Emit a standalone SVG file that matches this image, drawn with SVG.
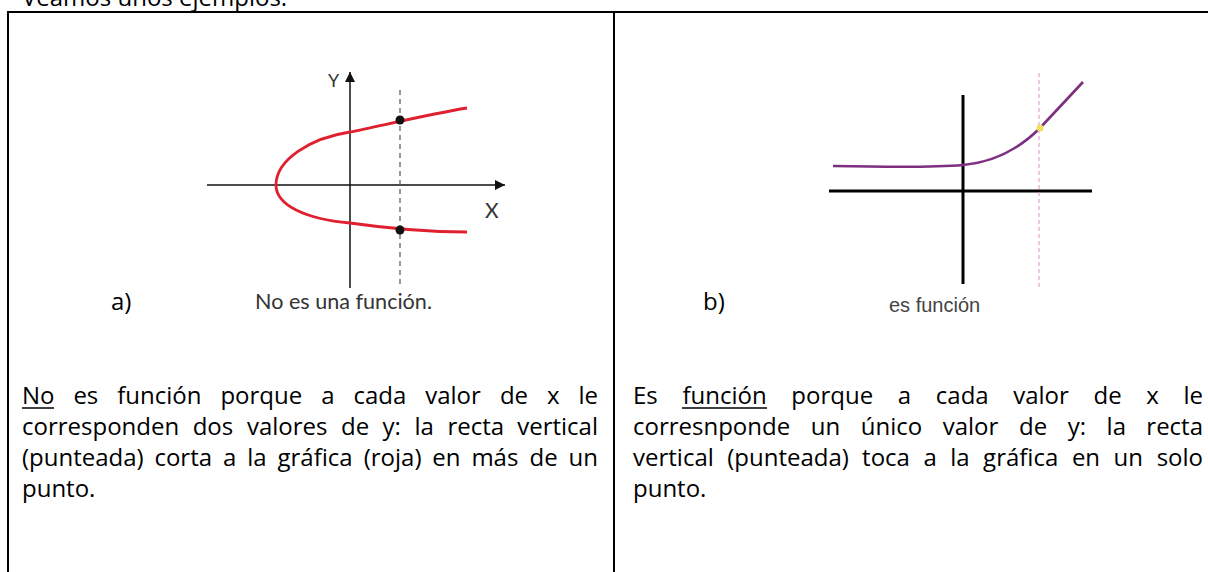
<svg xmlns="http://www.w3.org/2000/svg" width="1208" height="572" viewBox="0 0 1208 572">
<style>
.body{font-family:"Open Sans","Liberation Sans",sans-serif;font-size:24px;fill:#000}
.frame{stroke:#000;stroke-width:2;fill:none}
.axis{stroke:#111;stroke-width:1.5;fill:none}
.axisb{stroke:#000;stroke-width:3;fill:none}
.ul{stroke:#000;stroke-width:1.5}
.gill{font-family:Lato,"Open Sans",sans-serif;fill:#333}
</style>
<defs>
<marker id="arr" viewBox="0 0 10 10" refX="10" refY="5" markerWidth="10" markerHeight="10" markerUnits="userSpaceOnUse" orient="auto">
<path d="M0,0 L10,5 L0,10 Z" fill="#111"/>
</marker>
</defs>
<rect width="1208" height="572" fill="#fff"/>
<text class="body" x="22" y="6">Veamos unos ejemplos.</text>
<g id="table">
<line class="frame" x1="7" y1="12" x2="1208" y2="12"/>
<line class="frame" x1="8" y1="11" x2="8" y2="572"/>
<line class="frame" x1="614" y1="11" x2="614" y2="572"/>
</g>
<g id="graph-a">
<line class="axis" x1="207" y1="185" x2="505" y2="185" marker-end="url(#arr)"/>
<line class="axis" x1="350" y1="288" x2="350" y2="72" marker-end="url(#arr)"/>
<line x1="400" y1="90" x2="400" y2="288" stroke="#555" stroke-width="1.2" stroke-dasharray="5,4"/>
<path d="M467,108 C430,114 380,126 350,132 C310,138 276,160 276,185 C276,205 305,219 350,223 C385,228 420,232 467,232" fill="none" stroke="#e0202e" stroke-width="2.8"/>
<circle cx="400" cy="120" r="4.5" fill="#111"/>
<circle cx="400" cy="230" r="4.5" fill="#111"/>
<text class="gill" x="328" y="87" font-size="18">Y</text>
<text class="gill" x="485" y="218" font-size="21">X</text>
<text class="gill" x="255" y="309" font-size="21.5" textLength="177" lengthAdjust="spacingAndGlyphs">No es una función.</text>
<text class="body" x="111" y="310">a)</text>
</g>
<g id="graph-b">
<line class="axisb" x1="829" y1="191" x2="1092" y2="191"/>
<line class="axisb" x1="963" y1="95" x2="963" y2="284"/>
<line x1="1039" y1="73" x2="1039" y2="290" stroke="#e58ccc" stroke-width="1" stroke-dasharray="4,3"/>
<path d="M833,166 C880,167 930,168 963,165 C995,162 1020,148 1040,128 C1055,112 1070,96 1083,82" fill="none" stroke="#7e2f80" stroke-width="2.6"/>
<circle cx="1040" cy="128" r="3.5" fill="#f0e060"/>
<text class="body" x="703" y="310">b)</text>
<text x="889" y="312" font-family="'Liberation Sans',Arial,sans-serif" font-size="20" fill="#444">es función</text>
</g>
<g id="text-a" class="body">
<text y="404"><tspan x="22">No</tspan><tspan x="73.4">es</tspan><tspan x="117.2">función</tspan><tspan x="220.4">porque</tspan><tspan x="321.3">a</tspan><tspan x="353.5">cada</tspan><tspan x="425.2">valor</tspan><tspan x="499.9">de</tspan><tspan x="547">x</tspan><tspan x="598" text-anchor="end">le</tspan></text>
<line class="ul" x1="22" y1="408" x2="54" y2="408"/>
<text y="435"><tspan x="22">corresponden</tspan><tspan x="192.7">dos</tspan><tspan x="246.9">valores</tspan><tspan x="341">de</tspan><tspan x="382.6">y:</tspan><tspan x="414.5">la</tspan><tspan x="447.4">recta</tspan><tspan x="598" text-anchor="end">vertical</tspan></text>
<text y="466"><tspan x="22">(punteada)</tspan><tspan x="154.4">corta</tspan><tspan x="222.9">a</tspan><tspan x="247.2">la</tspan><tspan x="277.5">gráfica</tspan><tspan x="363.7">(roja)</tspan><tspan x="432.3">en</tspan><tspan x="471.4">más</tspan><tspan x="529.5">de</tspan><tspan x="598" text-anchor="end">un</tspan></text>
<text x="22" y="497">punto.</text>
</g>
<g id="text-b" class="body">
<text y="404"><tspan x="633">Es</tspan><tspan x="682.4">función</tspan><tspan x="791.3">porque</tspan><tspan x="897.8">a</tspan><tspan x="935.8">cada</tspan><tspan x="1013.2">valor</tspan><tspan x="1093.5">de</tspan><tspan x="1146.3">x</tspan><tspan x="1203" text-anchor="end">le</tspan></text>
<line class="ul" x1="682" y1="408" x2="767" y2="408"/>
<text y="435"><tspan x="633">corresnponde</tspan><tspan x="810.8">un</tspan><tspan x="860.8">único</tspan><tspan x="942.7">valor</tspan><tspan x="1019">de</tspan><tspan x="1067.7">y:</tspan><tspan x="1106.6">la</tspan><tspan x="1203" text-anchor="end">recta</tspan></text>
<text y="466"><tspan x="633">vertical</tspan><tspan x="727.2">(punteada)</tspan><tspan x="862.1">toca</tspan><tspan x="923.4">a</tspan><tspan x="950.2">la</tspan><tspan x="983.1">gráfica</tspan><tspan x="1071.9">en</tspan><tspan x="1113.5">un</tspan><tspan x="1203" text-anchor="end">solo</tspan></text>
<text x="633" y="497">punto.</text>
</g>
</svg>
